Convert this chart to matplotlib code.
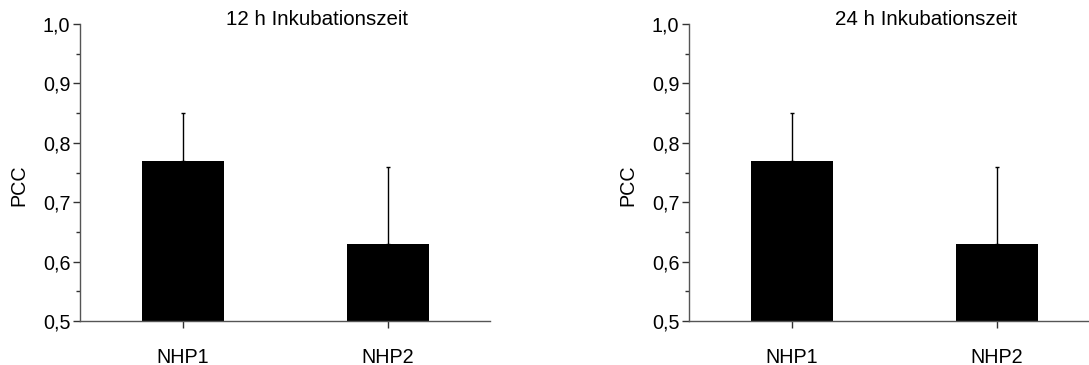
import matplotlib
matplotlib.use("Agg")
import matplotlib.pyplot as plt
from matplotlib.ticker import MultipleLocator, FuncFormatter

plt.rcParams['font.family'] = ['Liberation Sans', 'DejaVu Sans']

categories = ["NHP1", "NHP2"]
panel_titles = ["12 h Inkubationszeit", "24 h Inkubationszeit"]
pcc_12h = [0.77, 0.63]
err_12h = [0.08, 0.13]
pcc_24h = [0.77, 0.63]
err_24h = [0.08, 0.13]
y_label = "PCC"

W, H = 1089, 365
fig = plt.figure(figsize=(W / 100, H / 100), dpi=100)

# axes boxes in pixels: left, right, top, bottom
boxes = [(80, 490, 24, 321), (689, 1099, 24, 321)]
data = [(pcc_12h, err_12h), (pcc_24h, err_24h)]

comma = FuncFormatter(lambda v, p: f"{v:.1f}".replace(".", ","))
fs = 14.2

for (l, r, t, b), (vals, errs), title in zip(boxes, data, panel_titles):
    ax = fig.add_axes([l / W, 1 - b / H, (r - l) / W, (b - t) / H])
    x = [1, 2]
    ax.bar(x, vals, width=0.4, color='black', bottom=0,
           yerr=[[0, 0], errs], error_kw=dict(ecolor='black', elinewidth=1,
                                              capsize=1.5, capthick=1))
    ax.set_xlim(0.5, 2.5)
    ax.set_ylim(0.5, 1.0)
    ax.set_xticks(x)
    ax.set_xticklabels(categories)
    ax.yaxis.set_major_locator(MultipleLocator(0.1))
    ax.yaxis.set_minor_locator(MultipleLocator(0.05))
    ax.yaxis.set_major_formatter(comma)
    for s in ('top', 'right'):
        ax.spines[s].set_visible(False)
    for s in ('left', 'bottom'):
        ax.spines[s].set_color('#555555')
        ax.spines[s].set_linewidth(1.0)
    ax.tick_params(axis='y', which='major', direction='out', length=5, width=1,
                   labelsize=fs, pad=2, color='#333333')
    ax.tick_params(axis='y', which='minor', direction='out', length=3, width=1,
                   color='#333333')
    ax.tick_params(axis='x', which='major', direction='out', length=5, width=1,
                   labelsize=fs, pad=14.5, color='#333333')
    ax.set_ylabel(y_label, fontsize=fs)
    ax.yaxis.set_label_coords(-0.125, 0.458)
    ax.text(1.655, 1.008, title, ha='center', va='center', fontsize=14.8,
            clip_on=False)

fig.savefig("out.png", dpi=100)
